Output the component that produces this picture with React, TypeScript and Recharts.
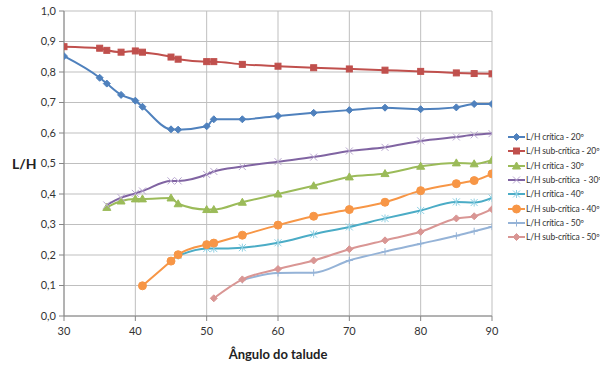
import React from 'react';
import { LineChart, Line, XAxis, YAxis, CartesianGrid } from 'recharts';

const angles = [30, 35, 36, 38, 40, 41, 45, 46, 50, 51, 55, 60, 65, 70, 75, 80, 85, 87.5, 90];

const crit20 = [0.852, 0.781, 0.762, 0.725, 0.706, 0.686, 0.612, 0.611, 0.622, 0.645, 0.645, 0.656, 0.666, 0.675, 0.683, 0.678, 0.684, 0.695, 0.695];
const sub20 = [0.883, 0.878, 0.871, 0.865, 0.869, 0.865, 0.849, 0.842, 0.834, 0.834, 0.825, 0.819, 0.814, 0.81, 0.806, 0.802, 0.797, 0.795, 0.794];
const crit30 = [null, null, 0.356, 0.377, 0.384, 0.384, 0.387, 0.368, 0.349, 0.349, 0.373, 0.4, 0.427, 0.456, 0.467, 0.491, 0.502, 0.499, 0.511];
const sub30 = [null, null, 0.364, 0.388, 0.402, 0.41, 0.443, 0.443, 0.464, 0.474, 0.49, 0.506, 0.521, 0.541, 0.553, 0.574, 0.587, 0.594, 0.598];
const crit40 = [null, null, null, null, null, null, null, 0.198, 0.221, 0.221, 0.224, 0.24, 0.268, 0.292, 0.32, 0.346, 0.374, 0.372, 0.387];
const sub40 = [null, null, null, null, null, 0.099, 0.18, 0.201, 0.234, 0.239, 0.265, 0.298, 0.327, 0.349, 0.373, 0.411, 0.434, 0.444, 0.466];
const crit50 = [null, null, null, null, null, null, null, null, null, null, 0.118, 0.141, 0.142, 0.182, 0.211, 0.237, 0.263, 0.278, 0.293];
const sub50 = [null, null, null, null, null, null, null, null, null, 0.058, 0.12, 0.154, 0.182, 0.219, 0.248, 0.276, 0.32, 0.327, 0.35];

const xTicks = [30, 40, 50, 60, 70, 80, 90];
const yTicks = [0, 0.1, 0.2, 0.3, 0.4, 0.5, 0.6, 0.7, 0.8, 0.9, 1.0];

type Shape = 'diamond' | 'square' | 'triangle' | 'x' | 'star' | 'circle' | 'plus';

const series: { key: string; name: string; values: (number | null)[]; color: string; shape: Shape }[] = [
  { key: 'c20', name: 'L/H crítica - 20º', values: crit20, color: '#4F81BD', shape: 'diamond' },
  { key: 's20', name: 'L/H sub-crítica - 20º', values: sub20, color: '#C0504D', shape: 'square' },
  { key: 'c30', name: 'L/H crítica - 30º', values: crit30, color: '#9BBB59', shape: 'triangle' },
  { key: 's30', name: 'L/H sub-crítica  - 30º', values: sub30, color: '#8064A2', shape: 'x' },
  { key: 'c40', name: 'L/H crítica - 40º', values: crit40, color: '#4BACC6', shape: 'star' },
  { key: 's40', name: 'L/H sub-crítica - 40º', values: sub40, color: '#F79646', shape: 'circle' },
  { key: 'c50', name: 'L/H crítica - 50º', values: crit50, color: '#95B3D7', shape: 'plus' },
  { key: 's50', name: 'L/H sub-crítica - 50º', values: sub50, color: '#D99694', shape: 'diamond' },
];

const data = angles.map((a, i) => {
  const row: Record<string, number | null> = { angle: a };
  series.forEach((s) => {
    row[s.key] = s.values[i];
  });
  return row;
});

const FONT = 'Lato, "Open Sans", sans-serif';

const Marker = ({ x, y, shape, color }: { x: number; y: number; shape: Shape; color: string }) => {
  switch (shape) {
    case 'diamond':
      return <path d={`M${x},${y - 3.5}L${x + 3.5},${y}L${x},${y + 3.5}L${x - 3.5},${y}Z`} fill={color} stroke={color} />;
    case 'square':
      return <rect x={x - 3} y={y - 3} width={6} height={6} fill={color} stroke={color} />;
    case 'triangle':
      return <path d={`M${x},${y - 4}L${x + 4},${y + 3}L${x - 4},${y + 3}Z`} fill={color} stroke={color} />;
    case 'x':
      return <path d={`M${x - 3.5},${y - 3.5}L${x + 3.5},${y + 3.5}M${x - 3.5},${y + 3.5}L${x + 3.5},${y - 3.5}`} stroke={color} strokeWidth={1} />;
    case 'star':
      return (
        <path
          d={`M${x - 3.5},${y - 3.5}L${x + 3.5},${y + 3.5}M${x - 3.5},${y + 3.5}L${x + 3.5},${y - 3.5}M${x},${y - 4}L${x},${y + 4}`}
          stroke={color}
          strokeWidth={1}
        />
      );
    case 'circle':
      return <circle cx={x} cy={y} r={4} fill={color} stroke={color} />;
    case 'plus':
      return <path d={`M${x - 3.5},${y}L${x + 3.5},${y}M${x},${y - 3.5}L${x},${y + 3.5}`} stroke={color} strokeWidth={1} />;
  }
  return null;
};

// Excel draws the x and star markers in a lighter tint than the line
const markerTint = (shape: Shape, color: string) =>
  shape === 'star' ? '#8FD0E3' : shape === 'x' ? '#B9A7D0' : color;

const makeDot = (shape: Shape, color: string) => (props: any) => {
  const { cx, cy, key, index } = props;
  if (cx == null || cy == null || isNaN(cy)) return <g key={key ?? index} />;
  return (
    <g key={key ?? index}>
      <Marker x={cx} y={cy} shape={shape} color={markerTint(shape, color)} />
    </g>
  );
};

const fmt = (v: number) => v.toFixed(1).replace('.', ',');

export default function App() {
  return (
    <div style={{ position: 'absolute', left: 0, top: 0, width: 600, height: 374, background: '#fff', overflow: 'hidden' }}>
      <LineChart width={600} height={374} data={data} margin={{ top: 11, right: 108, bottom: 28, left: 0 }}>
        <CartesianGrid stroke="#BFBFBF" strokeWidth={1} />
        <XAxis
          dataKey="angle"
          type="number"
          domain={[30, 90]}
          ticks={xTicks}
          height={30}
          tickSize={5}
          tickMargin={6}
          stroke="#868686"
          tick={{ fill: '#333', fontSize: 11, fontFamily: FONT }}
          allowDataOverflow
        />
        <YAxis
          type="number"
          domain={[0, 1]}
          ticks={yTicks}
          width={64}
          tickSize={5}
          tickMargin={3}
          stroke="#868686"
          tickFormatter={fmt}
          tick={{ fill: '#333', fontSize: 11, fontFamily: FONT }}
        />
        {series.map((s) => (
          <Line
            key={s.key}
            dataKey={s.key}
            name={s.name}
            type="monotone"
            stroke={s.color}
            strokeWidth={2}
            dot={makeDot(s.shape, s.color)}
            activeDot={false}
            isAnimationActive={false}
          />
        ))}
      </LineChart>
      <div
        style={{
          position: 'absolute',
          left: 508,
          top: 130,
          width: 92,
          whiteSpace: 'nowrap',
          fontFamily: FONT,
          fontSize: 8.5,
          letterSpacing: -0.15,
          color: '#333',
        }}
      >
        {series.map((s) => (
          <div key={s.key} style={{ display: 'flex', alignItems: 'center', height: 14.3 }}>
            <svg width={17} height={10} style={{ marginRight: 1, flexShrink: 0 }}>
              <line x1={0} y1={5} x2={17} y2={5} stroke={s.color} strokeWidth={2} />
              <Marker x={8.5} y={5} shape={s.shape} color={markerTint(s.shape, s.color)} />
            </svg>
            <span style={{ whiteSpace: 'pre' }}>{s.name}</span>
          </div>
        ))}
      </div>
      <div
        style={{
          position: 'absolute',
          left: 12,
          top: 155,
          fontFamily: FONT,
          fontWeight: 700,
          fontSize: 14,
          color: '#222',
        }}
      >
        L/H
      </div>
      <div
        style={{
          position: 'absolute',
          left: 0,
          width: 556,
          textAlign: 'center',
          top: 346,
          fontFamily: FONT,
          fontWeight: 700,
          fontSize: 13,
          color: '#222',
        }}
      >
        Ângulo do talude
      </div>
    </div>
  );
}
